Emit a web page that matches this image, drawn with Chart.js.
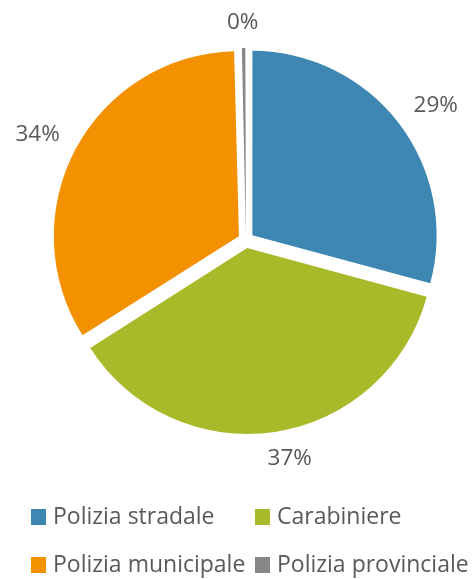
<!DOCTYPE html>
<html>
<head>
<meta charset="utf-8">
<script src="https://cdn.jsdelivr.net/npm/chart.js@4"></script>
<style>
html,body{margin:0;padding:0;background:#fff;}
#wrap{width:474px;height:579px;position:relative;}
</style>
</head>
<body>
<div id="wrap"><canvas id="c" width="474" height="579"></canvas></div>
<script>
const categories = ["Polizia stradale", "Carabiniere", "Polizia municipale", "Polizia provinciale"];
const values = [29.2, 36.8, 33.6, 0.4];
const colors = ["#3F87B3", "#A8B92A", "#F49100", "#878787"];
const textColor = "#595959";
const fontFamily = "'Open Sans', sans-serif";

const labelPlugin = {
  id: 'outsideLabels',
  afterDatasetsDraw(chart) {
    const ctx = chart.ctx;
    const meta = chart.getDatasetMeta(0);
    const data = chart.data.datasets[0].data;
    const total = data.reduce((a, b) => a + b, 0);
    ctx.save();
    ctx.font = "22.5px " + fontFamily;
    ctx.fillStyle = textColor;
    ctx.textAlign = 'center';
    ctx.textBaseline = 'alphabetic';
    meta.data.forEach((arc, i) => {
      const p = arc.getProps(['x','y','startAngle','endAngle','outerRadius'], true);
      const mid = (p.startAngle + p.endAngle) / 2;
      const txt = Math.round(data[i] / total * 100) + '%';
      const m = ctx.measureText(txt);
      const w = m.width;
      const asc = m.actualBoundingBoxAscent, desc = m.actualBoundingBoxDescent;
      const h = asc + desc;
      const c = Math.cos(mid), s = Math.sin(mid);
      const a = p.outerRadius + 8 + 19;
      const ax = p.x + c * a, ay = p.y + s * a;
      const k = 3.6;
      const cx = ax + (w / 2) * Math.max(-1, Math.min(1, k * c));
      const cy = ay + (h / 2) * Math.max(-1, Math.min(1, k * s));
      ctx.fillText(txt, cx, cy + (asc - desc) / 2);
    });
    ctx.restore();
  }
};

const legendPlugin = {
  id: 'gridLegend',
  afterDraw(chart) {
    const ctx = chart.ctx;
    const colX = [31, 255];
    const rowY = [509, 557];
    ctx.save();
    ctx.font = "23px " + fontFamily;
    ctx.textBaseline = 'middle';
    ctx.textAlign = 'left';
    categories.forEach((name, i) => {
      const x = colX[i % 2], y = rowY[Math.floor(i / 2)];
      ctx.fillStyle = colors[i];
      ctx.fillRect(x, y, 15, 16);
      ctx.fillStyle = textColor;
      ctx.fillText(name, x + 22, y + 8);
    });
    ctx.restore();
  }
};

new Chart(document.getElementById('c'), {
  type: 'pie',
  data: {
    labels: categories,
    datasets: [{
      data: values,
      backgroundColor: colors,
      borderWidth: 0,
      offset: [32, 32, 32, 16]
    }]
  },
  options: {
    responsive: false,
    animation: false,
    layout: { padding: { left: 46, right: 28, top: 40, bottom: 139 } },
    plugins: {
      legend: { display: false },
      tooltip: { enabled: false }
    }
  },
  plugins: [labelPlugin, legendPlugin]
});
</script>
</body>
</html>
